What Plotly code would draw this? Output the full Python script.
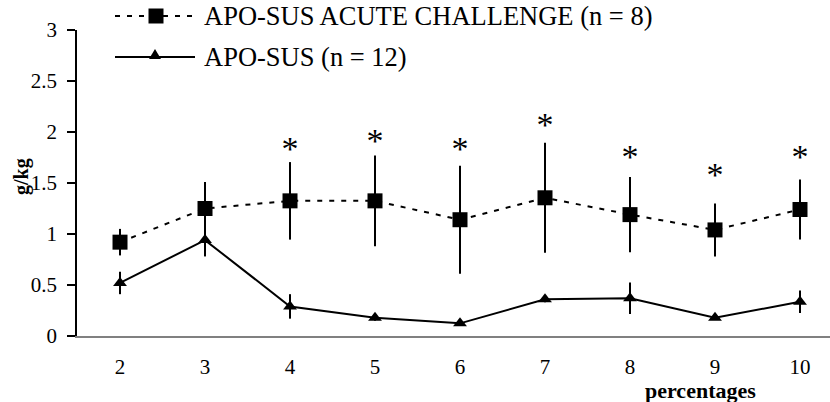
import plotly.graph_objects as go

# ---- data ----
categories = [2, 3, 4, 5, 6, 7, 8, 9, 10]
acute_mean = [0.92, 1.25, 1.325, 1.325, 1.14, 1.355, 1.19, 1.04, 1.24]
acute_err = [0.13, 0.26, 0.38, 0.445, 0.53, 0.54, 0.37, 0.26, 0.295]
sus_mean = [0.52, 0.94, 0.29, 0.18, 0.124, 0.36, 0.37, 0.18, 0.335]
sus_err = [0.11, 0.16, 0.12, 0.03, 0.02, 0.03, 0.155, 0.02, 0.11]
star_y = [None, None, 1.81, 1.89, 1.81, 2.04, 1.73, 1.55, 1.73]
star_text = ["" if v is None else "*" for v in star_y]
legend_labels = ["APO-SUS ACUTE CHALLENGE (n = 8)", "APO-SUS (n = 12)"]
y_ticks = [0, 0.5, 1, 1.5, 2, 2.5, 3]

FONT = "Liberation Serif"

# layout geometry (pixels)
W, H = 830, 402
L, R, T, B = 77, 0, 30, 66
PW, PH = W - L - R, H - T - B


def px(x):
    return (x - L) / PW


def py(y):
    return (H - B - y) / PH


fig = go.Figure()

fig.add_trace(go.Scatter(
    x=categories, y=acute_mean, mode="lines+markers",
    line=dict(color="black", width=2, dash="5px,7px"),
    marker=dict(symbol="square", size=15, color="black"),
    error_y=dict(type="data", array=acute_err, visible=True,
                 color="black", thickness=2, width=0),
    showlegend=False,
))
fig.add_trace(go.Scatter(
    x=categories, y=sus_mean, mode="lines+markers",
    line=dict(color="black", width=2),
    marker=dict(symbol="triangle-up", size=12, color="black"),
    error_y=dict(type="data", array=sus_err, visible=True,
                 color="black", thickness=2, width=0),
    showlegend=False,
))
fig.add_trace(go.Scatter(
    x=categories, y=star_y,
    mode="text", text=star_text, textposition="middle center",
    textfont=dict(family=FONT, size=34, color="black"),
    showlegend=False, cliponaxis=False,
))

shapes = []
annotations = []
# manual legend
rows = [(16, "dash", "square"), (57, "solid", "triangle")]
for (yy, dash, sym), label in zip(rows, legend_labels):
    shapes.append(dict(type="line", xref="paper", yref="paper",
                       x0=px(115), x1=px(195), y0=py(yy), y1=py(yy),
                       line=dict(color="black", width=2,
                                 dash="5px,7px" if dash == "dash" else "solid")))
    if sym == "square":
        shapes.append(dict(type="rect", xref="paper", yref="paper",
                           x0=px(148.5), x1=px(163.5), y0=py(yy + 7.5), y1=py(yy - 7.5),
                           fillcolor="black", line=dict(width=0)))
    else:
        shapes.append(dict(type="path", xref="paper", yref="paper",
                           path="M {} {} L {} {} L {} {} Z".format(
                               px(149), py(yy + 2), px(161), py(yy + 2), px(155), py(yy - 8)),
                           fillcolor="black", line=dict(width=0)))
    annotations.append(dict(x=px(202), y=py(yy), xref="paper", yref="paper",
                            text=label, showarrow=False, xanchor="left", yanchor="middle",
                            font=dict(family=FONT, size=26.5, color="black")))

annotations.append(dict(x=px(21), y=py(177), xref="paper", yref="paper",
                        text="<b>g/kg</b>", showarrow=False, textangle=-90,
                        xanchor="center", yanchor="middle",
                        font=dict(family=FONT, size=20, color="black")))
annotations.append(dict(x=px(700), y=py(390), xref="paper", yref="paper",
                        text="<b>percentages</b>", showarrow=False,
                        xanchor="center", yanchor="middle",
                        font=dict(family=FONT, size=22, color="black")))

fig.update_layout(
    width=W, height=H,
    margin=dict(l=L, r=R, t=T, b=B, pad=0),
    paper_bgcolor="white", plot_bgcolor="white",
    font=dict(family=FONT, size=21, color="black"),
    shapes=shapes, annotations=annotations,
    xaxis=dict(range=[1.494, 10.353], tickvals=categories, ticktext=[str(c) for c in categories],
               showgrid=False, zeroline=False, showline=True, linecolor="#808080",
               linewidth=1.5, ticks="", ticklabelstandoff=11, fixedrange=True),
    yaxis=dict(range=[0, 3], tickvals=y_ticks, ticktext=[f"{v:g}" for v in y_ticks],
               showgrid=False, zeroline=False, showline=True, linecolor="black",
               linewidth=1.5, ticks="outside", ticklen=8, tickwidth=1.5,
               tickcolor="black", ticklabelstandoff=6, fixedrange=True),
)

fig.write_html("out.html")
